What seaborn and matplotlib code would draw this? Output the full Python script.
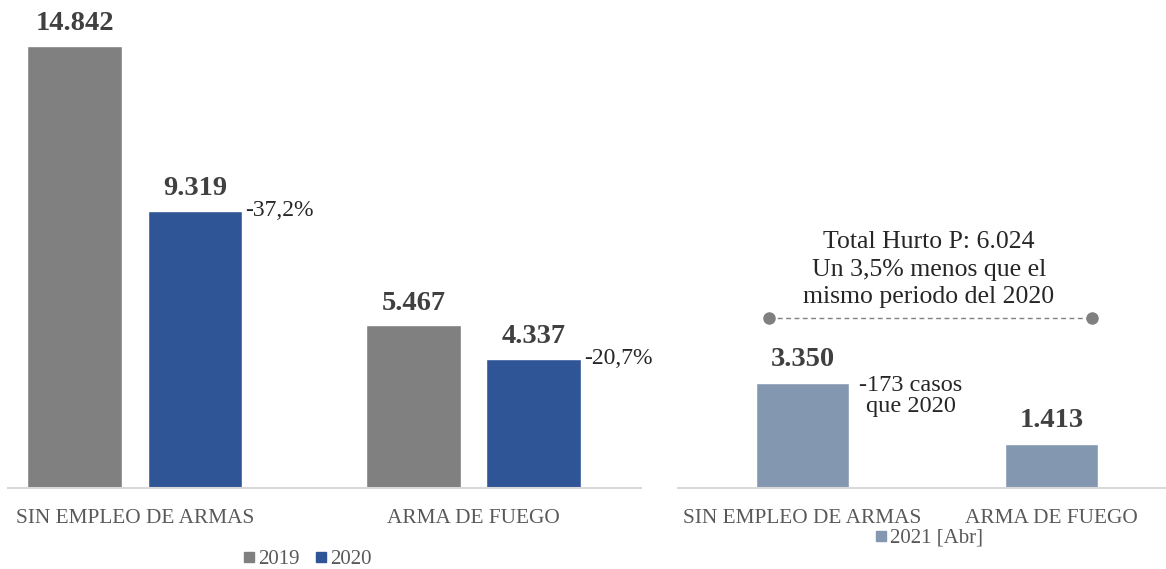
import matplotlib
matplotlib.use("Agg")
import matplotlib.pyplot as plt
import seaborn as sns
import pandas as pd
from matplotlib.lines import Line2D

# ---- data ----
categories = ["SIN EMPLEO DE ARMAS", "ARMA DE FUEGO"]
years = ["2019", "2020"]
values_2019 = [14842, 5467]
values_2020 = [9319, 4337]
pct_change = ["-37,2%", "-20,7%"]
values_2021 = [3350, 1413]
label_2021 = "2021 [Abr]"
note_2021 = "-173 casos\nque 2020"
total_note = "Total Hurto P: 6.024\nUn 3,5% menos que el\nmismo periodo del 2020"

sns.set_theme(style="white")
plt.rcParams["font.family"] = ["Liberation Serif", "DejaVu Serif"]

C19, C20, C21 = "#808080", "#2F5597", "#8497B0"
TXT = "#404040"
CAT = "#595959"

def fmt(v):
    return f"{v:,}".replace(",", ".")

W, H = 1166, 569
fig = plt.figure(figsize=(W / 100, H / 100), dpi=100)

# ---- left panel ----
axL = fig.add_axes([8 / W, 81 / H, 633 / W, 488 / H])
df = pd.DataFrame({
    "cat": categories * 2,
    "year": [years[0]] * 2 + [years[1]] * 2,
    "val": values_2019 + values_2020,
})
sns.barplot(data=df, x="cat", y="val", hue="year", order=categories, hue_order=years,
            palette=[C19, C20], width=0.71, gap=0.21, saturation=1, ax=axL, legend=False)
axL.set_xlim(-0.375, 1.495)
axL.set_ylim(0, 16390)
for cont, vals in zip(axL.containers, [values_2019, values_2020]):
    axL.bar_label(cont, labels=[fmt(v) for v in vals], padding=7, fontsize=20.5,
                  fontweight="bold", color=TXT)
for patch, txt in zip(axL.containers[1], pct_change):
    axL.annotate(txt, xy=(patch.get_x() + patch.get_width(), patch.get_height()),
                 xytext=(2, 0), textcoords="offset points", ha="left", va="center",
                 fontsize=17, color="#262626")

# ---- right panel ----
axR = fig.add_axes([678 / W, 81 / H, 488 / W, 488 / H])
df2 = pd.DataFrame({"cat": categories, "val": values_2021})
sns.barplot(data=df2, x="cat", y="val", order=categories, color=C21, width=0.377,
            saturation=1, ax=axR)
axR.set_xlim(-0.5, 1.46)
axR.set_ylim(0, 15640)
axR.bar_label(axR.containers[0], labels=[fmt(v) for v in values_2021], padding=8,
              fontsize=20.5, fontweight="bold", color=TXT)
p0 = axR.containers[0][0]
axR.annotate(note_2021, xy=(p0.get_x() + p0.get_width(), p0.get_height()),
             xytext=(44, -9), textcoords="offset points", ha="center", va="center",
             fontsize=17.5, color="#262626", linespacing=1.0, multialignment="center")
axR.text(0.508, 7000, total_note, ha="center", va="center", fontsize=18.5,
         color="#262626", linespacing=1.32)
axR.plot([-0.135, 1.162], [5450, 5450], ls=(0, (3.5, 2.5)), color="#808080", lw=1.0)
axR.plot([-0.135, 1.162], [5450, 5450], ls="none", marker="o", markersize=8,
         color="#808080")

for ax in (axL, axR):
    ax.set_xlabel("")
    ax.set_ylabel("")
    ax.set_yticks([])
    for s in ("top", "left", "right"):
        ax.spines[s].set_visible(False)
    ax.spines["bottom"].set_color("#d9d9d9")
    ax.spines["bottom"].set_linewidth(1.5)
    ax.tick_params(axis="x", length=0, pad=15, labelsize=15.3, labelcolor=CAT)
    ax.set_facecolor("none")

# legends
hL = [Line2D([], [], ls="none", marker="s", markersize=6.5, color=c, label=l)
      for c, l in zip([C19, C20], years)]
fig.legend(handles=hL, loc="center", bbox_to_anchor=(307 / W, 1 - 559 / H), ncol=2,
           frameon=False, fontsize=15, handletextpad=0.15, columnspacing=0.7,
           handlelength=0.6, labelcolor=CAT)
hR = [Line2D([], [], ls="none", marker="s", markersize=6.5, color=C21, label=label_2021)]
fig.legend(handles=hR, loc="center", bbox_to_anchor=(929 / W, 1 - 538 / H),
           frameon=False, fontsize=15, handletextpad=0.15, handlelength=0.6,
           labelcolor=CAT)

fig.savefig("out.png", dpi=100, facecolor="white")
